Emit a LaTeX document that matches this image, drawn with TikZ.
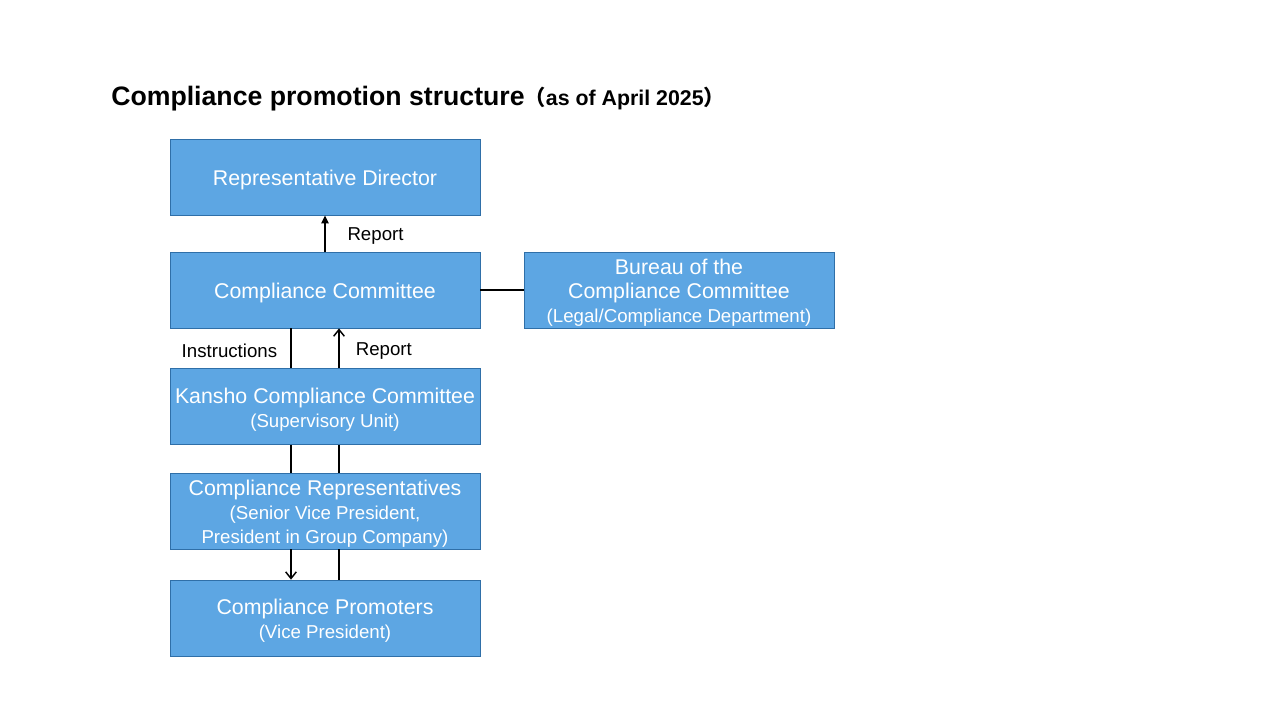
\documentclass[tikz,border=0pt]{standalone}
\usepackage{fontspec}
\setmainfont{Liberation Sans}
\newfontfamily\cjk{Noto Sans CJK JP}
\usetikzlibrary{positioning,arrows.meta}

\definecolor{boxfill}{HTML}{5DA6E3}
\definecolor{boxline}{HTML}{2F6FA8}

\newcommand{\subline}[1]{{\fontsize{14}{17}\selectfont #1}}

\begin{document}
\begin{tikzpicture}[on grid,auto,
    unit/.style={draw=boxline,fill=boxfill,text=white,line width=0.6pt,
      inner sep=0pt,text width=232pt,
      minimum width=232.5pt,minimum height=57pt,align=flush center,
      font=\fontsize{16}{18}\selectfont,
      execute at begin node={\rule{0pt}{16pt}}},
    lbl/.style={font=\fontsize{14}{16}\selectfont,yshift=-2pt},
    link/.style={line width=1.1pt},
    up/.style={link,-{Triangle[length=6pt,width=5.5pt]}},
    open/.style={link,-{Straight Barb[length=5pt,width=8pt]}}]
   \useasboundingbox (0,0) rectangle (960pt,-540pt);
   \node[anchor=base west,inner sep=0pt,font=\bfseries\fontsize{20}{24}\selectfont] (title) at (83.25pt,-79.5pt)
     {Compliance promotion structure{\fontsize{16}{19}\selectfont\cjk（}{\fontsize{16}{19}\selectfont as of April 2025}{\fontsize{16}{19}\selectfont\cjk）}};
   \node[unit] (rd) at (243.75pt,-132.75pt) {Representative Director};
   \node[unit] (cc) [below=84.75pt of rd] {Compliance Committee};
   \node[unit] (bu) [right=265.5pt of cc] {Bureau of the\\Compliance Committee\\\subline{(Legal/Compliance Department)}};
   \node[unit] (ks) [below=87.4pt of cc] {Kansho Compliance Committee\\\subline{(Supervisory Unit)}};
   \node[unit] (cr) [below=78.4pt of ks] {Compliance Representatives\\\subline{(Senior Vice President,}\\\subline{President in Group Company)}};
   \node[unit] (cp) [below=80.25pt of cr] {Compliance Promoters\\\subline{(Vice President)}};
   % report to the top
   \draw[up] (cc) -- node[lbl,right=13pt] {Report} (rd);
   \draw[link] (cc) -- (bu);
   % instructions going down
   \draw[link] ([xshift=-25.5pt]cc.south) -- node[lbl,left=6.5pt] {Instructions} ([xshift=-25.5pt]ks.north);
   \draw[link] ([xshift=-25.5pt]ks.south) -- ([xshift=-25.5pt]cr.north);
   \draw[open] ([xshift=-25.5pt]cr.south) -- ([xshift=-25.5pt]cp.north);
   % reports going up
   \draw[link] ([xshift=10.5pt]cp.north) -- ([xshift=10.5pt]cr.south);
   \draw[link] ([xshift=10.5pt]cr.north) -- ([xshift=10.5pt]ks.south);
   \draw[open] ([xshift=10.5pt]ks.north) -- node[lbl,right=8.7pt] {Report} ([xshift=10.5pt]cc.south);
\end{tikzpicture}
\end{document}
